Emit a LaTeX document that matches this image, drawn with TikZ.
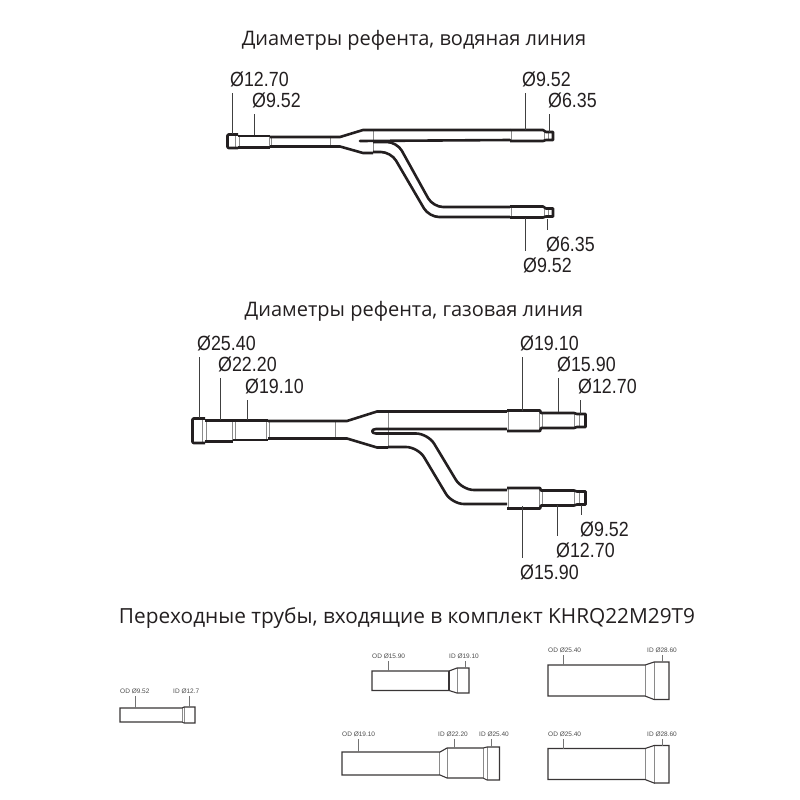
\documentclass[tikz,border=0pt]{standalone}
\usepackage{fontspec}
\setmainfont{Open Sans}
\newfontfamily\dimfont[FakeStretch=0.87]{Liberation Sans}
\newfontfamily\smallfont{Liberation Sans}
\definecolor{pipedark}{HTML}{231F20}
\definecolor{ringgray}{HTML}{8A8A8A}
\tikzset{
  titlelbl/.style={font=\fontsize{20}{24}\selectfont, text=pipedark, inner sep=0pt},
  dimlbl/.style={font=\dimfont\fontsize{20.5}{22}\selectfont, text=pipedark, anchor=west,
      inner xsep=0pt, inner ysep=7pt, text height=14pt, text depth=0pt},
  smalllbl/.style={font=\smallfont\fontsize{6.5}{8}\selectfont, text=black!70, anchor=west,
      inner xsep=0pt, inner ysep=3pt, text height=6pt, text depth=0pt},
  leader/.style={draw=black!75, line width=0.9pt},
  smallleader/.style={draw=black!55, line width=0.8pt},
  pipeline/.style={draw=pipedark, line width=2.6pt, line join=round},
  ringline/.style={draw=ringgray, line width=1pt},
  tubeline/.style={draw=pipedark!90, line width=1.1pt},
  tubering/.style={draw=ringgray, line width=0.9pt}
}
\begin{document}
\begin{tikzpicture}[x=1pt, y=-1pt]
  \useasboundingbox (0,0) rectangle (800,800);

  \node[titlelbl] (titleWater) at (414,40) {Диаметры рефента, водяная линия};
  \node[titlelbl] (titleGas) at (414,311.5) {Диаметры рефента, газовая линия};
  \node[titlelbl, font=\fontsize{20.8}{24}\selectfont] (titleKit) at (407,618.5) {Переходные трубы, входящие в комплект KHRQ22M29T9};

  % water line
  \draw[ringline] (235,135) -- (235,147) (239,137) -- (239,147) (269,136) -- (269,148)
      (271,137) -- (271,146) (330,137) -- (330,146) (373,130) -- (373,153);
  \draw[pipeline, rounded corners=1pt] (238,134.5) -- (227.5,134.5) -- (227.5,148) -- (238,148);
  \draw[pipeline] (238,136) -- (270,136) (238,147.5) -- (270,147.5);
  \draw[pipeline] (270,137) -- (340,137) -- (363,130) -- (510,130)
      (270,146.5) -- (340,146.5) -- (363,153) -- (373,153);
  \draw[pipeline, line cap=round] (360,141) -- (510,140);
  \draw[pipeline, rounded corners=10pt] (373,142) -- (397,142) -- (433,207) -- (510,207);
  \draw[pipeline, rounded corners=10pt] (373,152) -- (391,152) -- (429,217) -- (510,217);
  \foreach \yy in {0,76.5}{
    \draw[ringline, yshift=-\yy pt] (511,130) -- (511,141) (544,132) -- (544,140) (548,132) -- (548,140);
    \draw[pipeline, yshift=-\yy pt] (510,130) -- (543,130) -- (546,132) -- (553,132) -- (553,140)
        -- (546,140) -- (543,141) -- (510,141);
  }

  % gas line
  \draw[ringline] (202,419) -- (202,442) (206,420) -- (206,441) (232,420) -- (232,441) (235,421) -- (235,440)
      (266,421) -- (266,440) (269,421) -- (269,439) (335,421) -- (335,439) (388,412) -- (388,448);
  \draw[pipeline, rounded corners=1pt] (205,418.5) -- (192.5,418.5) -- (192.5,443) -- (205,443);
  \draw[pipeline] (205,420.5) -- (233,420.5) (205,441.5) -- (233,441.5)
      (233,420.5) -- (268,420.5) (233,440) -- (268,440);
  \draw[pipeline] (268,421) -- (347,421) -- (377,411.5) -- (507,411.5)
      (268,438.5) -- (347,438.5) -- (377,447.5) -- (388,447.5);
  \draw[pipeline] (507,429) -- (376,429) .. controls (371,429) and (371,433.5) .. (376,433.5) -- (400,433.5);
  \draw[pipeline, rounded corners=12pt] (400,433.5) -- (428,433.5) -- (462,490) -- (507,490);
  \draw[pipeline, rounded corners=12pt] (388,447) -- (418,447) -- (452,504) -- (507,504);
  \foreach \yy in {0,77.5}{
    \draw[ringline, yshift=-\yy pt] (508,411) -- (508,431) (539,411) -- (539,431) (542,413) -- (542,428)
        (574,413) -- (574,428) (579,414) -- (579,427);
    \draw[pipeline, yshift=-\yy pt] (507,410.5) -- (540,410.5) -- (541,413) -- (574,413) -- (577,414)
        -- (585.5,414) -- (585.5,427) -- (577,427) -- (574,428) -- (541,428) -- (540,431) -- (507,431);
  }

  % leaders above and below the pipes
  \foreach \nm/\tx/\ty/\lbl/\lx/\ly in {
      lblA/230/79/Ø12.70/232/134, lblB/252/100/Ø9.52/254/135, lblC/522/79/Ø9.52/525/130,
      lblD/548/100/Ø6.35/549/132, lblE/197/343/Ø25.40/199/418, lblF/218/364/Ø22.20/220/420,
      lblG/245/386/Ø19.10/247/420, lblH/520/343/Ø19.10/522/411, lblI/557/364/Ø15.90/558/412,
      lblJ/578/386/Ø12.70/580/414}{
    \node[dimlbl] (\nm) at (\tx,\ty) {\lbl};
    \coordinate (\nm end) at (\lx,\ly);
    \draw[leader] (\nm.south -| \nm end) -- (\nm end);
  }
  \foreach \nm/\tx/\ty/\lbl/\lx/\ly in {
      lblK/546/244/Ø6.35/547/219, lblL/523/265/Ø9.52/525/218, lblM/580/529/Ø9.52/581/505,
      lblN/556/550/Ø12.70/557/505, lblO/520/572/Ø15.90/522/506}{
    \node[dimlbl] (\nm) at (\tx,\ty) {\lbl};
    \coordinate (\nm end) at (\lx,\ly);
    \draw[leader] (\nm.north -| \nm end) -- (\nm end);
  }

  % adapters
  \draw[tubering] (182,708) -- (182,722) (184,707) -- (184,723);
  \draw[tubeline] (182,708) -- (120,708) -- (120,722) -- (182,722) -- (184,723) -- (195,723)
      -- (195,707) -- (184,707) -- cycle;

  \draw[tubering] (457,668) -- (457,693);
  \draw[tubeline] (449,671) -- (372,671) -- (372,690.5) -- (449,690.5) -- (457,693) -- (469,693)
      -- (469,668) -- (457,668) -- cycle;
  \draw[tubeline] (449,671) -- (449,690.5);

  \draw[tubering] (439,752) -- (439,775) (447,748) -- (447,778) (483,748) -- (483,778) (487,747) -- (487,780);
  \draw[tubeline] (440,752) -- (342,752) -- (342,775) -- (440,775) -- (447,778) -- (483,778) -- (487,780)
      -- (499.5,780) -- (499.5,747) -- (487,747) -- (483,748) -- (447,748) -- cycle;

  \foreach \yy in {0,83.5}{
    \draw[tubering, yshift=-\yy pt] (645,665) -- (645,696) (654,662) -- (654,700);
    \draw[tubeline, yshift=-\yy pt] (645,665) -- (548,665) -- (548,696) -- (645,696) -- (654,699.5)
        -- (669,699.5) -- (669,662) -- (654,662) -- cycle;
  }

  \foreach \nm/\tx/\ty/\lbl/\lx/\ly in {
      odA/120/690/OD Ø9.52/135/708, idA/173/690/ID Ø12.7/189/707,
      odB/372/655/OD Ø15.90/388/671, idB/449/655/ID Ø19.10/465/668,
      odC/342/733/OD Ø19.10/358/752, idC/438/733/ID Ø22.20/454/748, idD/479/733/ID Ø25.40/491/747,
      odE/548/649/OD Ø25.40/563/665, idE/647/649/ID Ø28.60/662/662,
      odF/548/733/OD Ø25.40/563/748.5, idF/647/733/ID Ø28.60/662/745.5}{
    \node[smalllbl] (\nm) at (\tx,\ty) {\lbl};
    \coordinate (\nm end) at (\lx,\ly);
    \draw[smallleader] (\nm.south -| \nm end) -- (\nm end);
  }
\end{tikzpicture}
\end{document}
